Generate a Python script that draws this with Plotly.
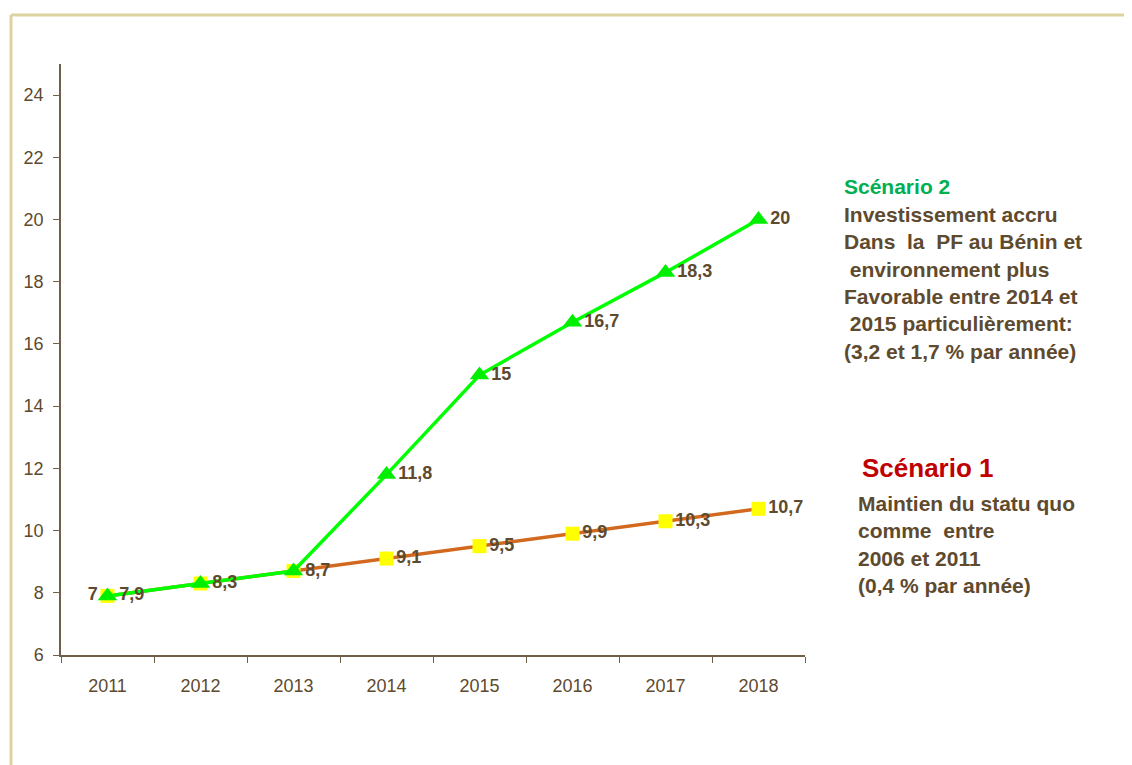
import plotly.graph_objects as go

years = ["2011", "2012", "2013", "2014", "2015", "2016", "2017", "2018"]
scenario1 = [7.9, 8.3, 8.7, 9.1, 9.5, 9.9, 10.3, 10.7]
scenario1_labels = ["7", "", "", "9,1", "9,5", "9,9", "10,3", "10,7"]
scenario2 = [7.9, 8.3, 8.7, 11.8, 15, 16.7, 18.3, 20]
scenario2_labels = ["7,9", "8,3", "8,7", "11,8", "15", "16,7", "18,3", "20"]
y_ticks = [6, 8, 10, 12, 14, 16, 18, 20, 22, 24]

TXT = "#5E4A2E"
AX = "#6E5E4A"
FONT = "Liberation Sans, Arial, sans-serif"

fig = go.Figure()
fig.add_trace(go.Scatter(
    x=years, y=scenario1, mode="lines+markers+text",
    line=dict(color="#D2691E", width=3.5),
    marker=dict(symbol="square", size=14, color="#FFFF00"),
    text=scenario1_labels,
    textposition=["middle left"] + ["middle right"] * 7,
    textfont=dict(family=FONT, size=18, color=TXT, weight="bold"),
    cliponaxis=False, showlegend=False,
))
fig.add_trace(go.Scatter(
    x=years, y=scenario2, mode="lines+markers+text",
    line=dict(color="#00FF00", width=3.5),
    marker=dict(symbol="triangle-up", size=17, color="#00EE00"),
    text=scenario2_labels,
    textposition="middle right",
    textfont=dict(family=FONT, size=18, color=TXT, weight="bold"),
    cliponaxis=False, showlegend=False,
))

OFF = 8  # page body margin
W, H = 1132 - OFF, 765 - OFF
L, R, T, B = 61 - OFF, 327, 64 - OFF, 110
pw, ph = W - L - R, H - T - B


def px(x):
    return (x - OFF - L) / pw


def py(y):
    return (H - B - (y - OFF)) / ph


frame = "#DDD3A0"
fig.add_shape(type="line", xref="paper", yref="paper", x0=px(11), x1=px(1140), y0=py(15), y1=py(15),
              line=dict(color=frame, width=3))
fig.add_shape(type="line", xref="paper", yref="paper", x0=px(11), x1=px(11), y0=py(15), y1=py(775),
              line=dict(color=frame, width=3))

s2_lines = [
    "Investissement accru",
    "Dans&nbsp; la&nbsp; PF au Bénin et",
    "&nbsp;environnement plus",
    "Favorable entre 2014 et",
    "&nbsp;2015 particulièrement:",
    "(3,2 et 1,7 % par année)",
]
fig.add_annotation(xref="paper", yref="paper", x=px(842), y=py(187), xanchor="left", yanchor="middle",
                   text="<b>Scénario 2</b>", showarrow=False,
                   font=dict(family=FONT, size=21, color="#00B050"))
fig.add_annotation(xref="paper", yref="paper", x=px(842), y=py(201), xanchor="left", yanchor="top",
                   text="<br>".join(f"<b>{s}</b>" for s in s2_lines),
                   showarrow=False, align="left",
                   font=dict(family=FONT, size=21, color=TXT))

s1_lines = [
    "Maintien du statu quo",
    "comme&nbsp; entre",
    "2006 et 2011",
    "(0,4 % par année)",
]
fig.add_annotation(xref="paper", yref="paper", x=px(860), y=py(468), xanchor="left", yanchor="middle",
                   text="<b>Scénario 1</b>", showarrow=False,
                   font=dict(family=FONT, size=26, color="#C00000"))
fig.add_annotation(xref="paper", yref="paper", x=px(856), y=py(490), xanchor="left", yanchor="top",
                   text="<br>".join(f"<b>{s}</b>" for s in s1_lines),
                   showarrow=False, align="left",
                   font=dict(family=FONT, size=21, color=TXT))

fig.update_layout(
    width=W, height=H,
    margin=dict(l=L, r=R, t=T, b=B),
    paper_bgcolor="white", plot_bgcolor="white",
    font=dict(family=FONT, color=TXT),
)
fig.update_xaxes(
    type="category", range=[-0.5, 7.5],
    showline=True, linecolor=AX, linewidth=1.5,
    ticks="outside", tickson="boundaries", ticklen=6, tickcolor=AX,
    showgrid=False, zeroline=False, ticklabelstandoff=14,
    tickfont=dict(family=FONT, size=18, color=TXT),
)
fig.update_yaxes(
    range=[6, 25], tickvals=y_ticks,
    showline=True, linecolor=AX, linewidth=1.5,
    ticks="outside", ticklen=6, tickcolor=AX,
    showgrid=False, zeroline=False, ticklabelstandoff=6,
    tickfont=dict(family=FONT, size=18, color=TXT),
)

fig.write_html("out.html")
